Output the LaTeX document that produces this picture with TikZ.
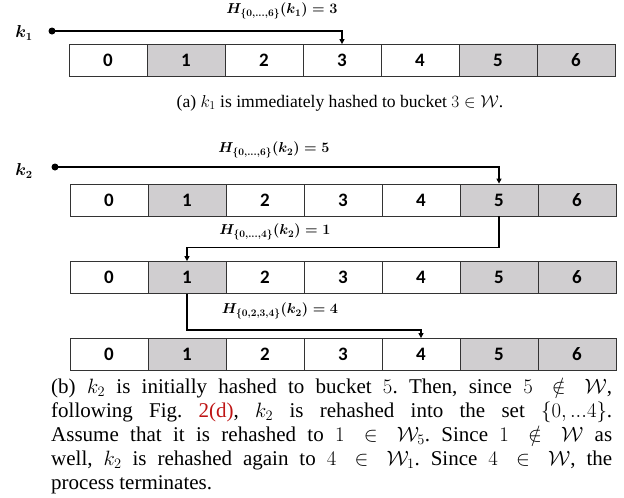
\documentclass[tikz,border=0pt]{standalone}
\usepackage{fontspec}
\setmainfont{Liberation Serif}
\newfontfamily\calib{Carlito}
\usetikzlibrary{arrows.meta}
\definecolor{cellgray}{RGB}{208,206,208}
\definecolor{linkred}{RGB}{190,20,20}
\begin{document}
\frenchspacing
\begin{tikzpicture}[x=1pt,y=-1pt,
  cell/.style={draw=black!80, line width=0.8pt, minimum width=78pt, minimum height=32pt, inner sep=0pt,
    font=\calib\bfseries\fontsize{19}{19}\selectfont},
  lab/.style={inner sep=0pt, font=\boldmath\fontsize{14.2}{14.2}\selectfont},
  klab/.style={inner sep=0pt, font=\boldmath\fontsize{16}{16}\selectfont},
  keydot/.style={circle, fill=black, inner sep=0pt, minimum size=7pt},
  conn/.style={line width=1.3pt, -{Triangle[length=5pt,width=5pt]}},
  captext/.style={inner sep=0pt, font=\fontsize{21}{24}\selectfont},
  captexta/.style={inner sep=0pt, font=\fontsize{17.6}{20}\selectfont}]
\useasboundingbox (0,0) rectangle (624,498);
% arrays
\foreach \i/\f in {0/white,1/cellgray,2/white,3/white,4/white,5/cellgray,6/cellgray}{
  \node[cell, fill=\f] (a\i) at (69+39+78*\i, 60.5) {\i};
  \node[cell, fill=\f] (b\i) at (70+39+78*\i, 200) {\i};
  \node[cell, fill=\f] (c\i) at (70+39+78*\i, 277.5) {\i};
  \node[cell, fill=\f] (d\i) at (70+39+78*\i, 354.5) {\i};
}
% (a)
\node[klab] (k1) at (24,33) {$k_1$};
\node[keydot] (dk1) at (52,31) {};
\node[lab] (h1) at (282,11) {$H_{\{0,\dots,6\}}(k_1)=3$};
\draw[conn] (dk1.center) -| (a3.north);
\node[captexta] (capa) at (340,103) {(a) $k_1$ is immediately hashed to bucket $3\in\mathcal{W}$.};
% (b)
\node[klab] (k2) at (24,171) {$k_2$};
\node[keydot] (dk2) at (55,167) {};
\node[lab] (h2) at (274,150) {$H_{\{0,\dots,6\}}(k_2)=5$};
\draw[conn] (dk2.center) -| (b5.north);
\node[lab] (h3) at (275,232) {$H_{\{0,\dots,4\}}(k_2)=1$};
\draw[conn] (b5.south) -- ++(0,31) -| (c1.north);
\node[lab] (h4) at (280,311) {$H_{\{0,2,3,4\}}(k_2)=4$};
\draw[conn] (c1.south) -- ++(0,36) -| (d4.north);
\node[captext, anchor=north west, text width=561pt, align=justify] (capb) at (51,378) {(b) $k_2$ is initially hashed to bucket $5$. Then, since $5\notin\mathcal{W}$,\linebreak following Fig. \textcolor{linkred}{2(d)}, $k_2$ is rehashed into the set $\{0,...4\}$.\linebreak Assume that it is rehashed to $1\in\mathcal{W}_5$. Since $1\notin\mathcal{W}$ as\linebreak well, $k_2$ is rehashed again to $4\in\mathcal{W}_1$. Since $4\in\mathcal{W}$, the\linebreak process terminates.};
\end{tikzpicture}
\end{document}
